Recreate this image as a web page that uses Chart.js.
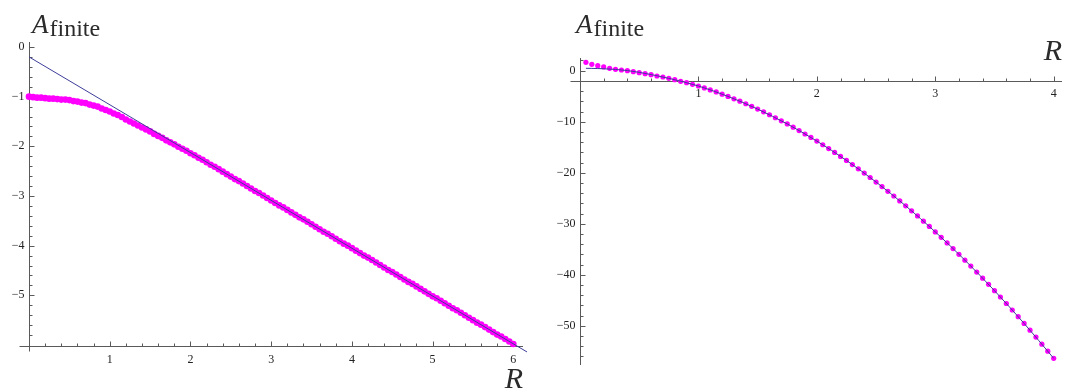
<!DOCTYPE html>
<html>
<head>
<meta charset="utf-8">
<script src="https://cdn.jsdelivr.net/npm/chart.js@4.4.1/dist/chart.umd.min.js"></script>
<style>
  html, body { margin: 0; padding: 0; background: #fff; }
  #wrap { position: relative; width: 1066px; height: 390px; }
  canvas { position: absolute; top: 0; }
  #left { left: 0; }
  #right { left: 533px; }
</style>
</head>
<body>
<div id="wrap">
  <canvas id="left" width="533" height="390"></canvas>
  <canvas id="right" width="533" height="390"></canvas>
</div>
<script>
// ---- left panel: A_finite vs R, dots + asymptotic straight line ----
const leftR = [0, 0.05, 0.1, 0.15, 0.2, 0.25, 0.3, 0.35, 0.4, 0.45, 0.5, 0.55, 0.6, 0.65, 0.7, 0.75, 0.8, 0.85, 0.9, 0.95,
  1.0, 1.05, 1.1, 1.15, 1.2, 1.25, 1.3, 1.35, 1.4, 1.45, 1.5, 1.55, 1.6, 1.65, 1.7, 1.75, 1.8, 1.85, 1.9, 1.95,
  2.0, 2.05, 2.1, 2.15, 2.2, 2.25, 2.3, 2.35, 2.4, 2.45, 2.5, 2.55, 2.6, 2.65, 2.7, 2.75, 2.8, 2.85, 2.9, 2.95,
  3.0, 3.05, 3.1, 3.15, 3.2, 3.25, 3.3, 3.35, 3.4, 3.45, 3.5, 3.55, 3.6, 3.65, 3.7, 3.75, 3.8, 3.85, 3.9, 3.95,
  4.0, 4.05, 4.1, 4.15, 4.2, 4.25, 4.3, 4.35, 4.4, 4.45, 4.5, 4.55, 4.6, 4.65, 4.7, 4.75, 4.8, 4.85, 4.9, 4.95,
  5.0, 5.05, 5.1, 5.15, 5.2, 5.25, 5.3, 5.35, 5.4, 5.45, 5.5, 5.55, 5.6, 5.65, 5.7, 5.75, 5.8, 5.85, 5.9, 5.95, 6.0];
const leftDots = [-1.00, -1.01, -1.02, -1.02, -1.03, -1.04, -1.04, -1.05, -1.06, -1.06, -1.07, -1.09, -1.10, -1.12, -1.13, -1.16, -1.18, -1.20, -1.24, -1.27,
  -1.30, -1.34, -1.37, -1.41, -1.46, -1.50, -1.54, -1.58, -1.62, -1.66, -1.70, -1.75, -1.79, -1.83, -1.88, -1.92, -1.96, -2.01, -2.05, -2.09,
  -2.14, -2.18, -2.23, -2.27, -2.32, -2.37, -2.41, -2.46, -2.51, -2.56, -2.61, -2.66, -2.70, -2.75, -2.80, -2.85, -2.90, -2.94, -2.99, -3.04,
  -3.09, -3.14, -3.19, -3.23, -3.28, -3.33, -3.38, -3.43, -3.47, -3.52, -3.57, -3.62, -3.67, -3.72, -3.76, -3.81, -3.86, -3.91, -3.96, -4.00,
  -4.05, -4.10, -4.15, -4.20, -4.24, -4.29, -4.34, -4.39, -4.44, -4.49, -4.53, -4.58, -4.63, -4.68, -4.73, -4.77, -4.82, -4.87, -4.92, -4.97,
  -5.02, -5.06, -5.11, -5.16, -5.21, -5.26, -5.30, -5.35, -5.40, -5.45, -5.50, -5.55, -5.59, -5.64, -5.69, -5.74, -5.79, -5.83, -5.88, -5.93, -5.98];
const leftLineR = [0, 6.17];
const leftLineA = [-0.2, -6.14];
const leftXMajor = [1, 2, 3, 4, 5, 6];
const leftXMinor = [0.2, 0.4, 0.6, 0.8, 1.2, 1.4, 1.6, 1.8, 2.2, 2.4, 2.6, 2.8, 3.2, 3.4, 3.6, 3.8,
  4.2, 4.4, 4.6, 4.8, 5.2, 5.4, 5.6, 5.8];
const leftYMajor = [0, -1, -2, -3, -4, -5];
const leftYMinor = [-0.2, -0.4, -0.6, -0.8, -1.2, -1.4, -1.6, -1.8, -2.2, -2.4, -2.6, -2.8, -3.2, -3.4, -3.6, -3.8,
  -4.2, -4.4, -4.6, -4.8, -5.2, -5.4, -5.6, -5.8];

// ---- right panel ----
const rightR = [0.05, 0.10, 0.15, 0.20, 0.25, 0.30, 0.35, 0.40, 0.45, 0.50, 0.55, 0.60, 0.65, 0.70, 0.75, 0.80, 0.85, 0.90, 0.95, 1.00,
  1.05, 1.10, 1.15, 1.20, 1.25, 1.30, 1.35, 1.40, 1.45, 1.50, 1.55, 1.60, 1.65, 1.70, 1.75, 1.80, 1.85, 1.90, 1.95, 2.00,
  2.05, 2.10, 2.15, 2.20, 2.25, 2.30, 2.35, 2.40, 2.45, 2.50, 2.55, 2.60, 2.65, 2.70, 2.75, 2.80, 2.85, 2.90, 2.95, 3.00,
  3.05, 3.10, 3.15, 3.20, 3.25, 3.30, 3.35, 3.40, 3.45, 3.50, 3.55, 3.60, 3.65, 3.70, 3.75, 3.80, 3.85, 3.90, 3.95, 4.00];
const rightDots = [1.64, 1.25, 0.98, 0.74, 0.46, 0.27, 0.14, 0.01, -0.19, -0.38, -0.58, -0.78, -1.04, -1.24, -1.50, -1.76, -2.09, -2.35, -2.67, -3.00,
  -3.37, -3.77, -4.17, -4.60, -5.04, -5.51, -5.98, -6.48, -6.99, -7.53, -8.07, -8.64, -9.22, -9.83, -10.44, -11.08, -11.73, -12.41, -13.09, -13.80,
  -14.52, -15.27, -16.02, -16.80, -17.59, -18.41, -19.23, -20.08, -20.94, -21.83, -22.72, -23.64, -24.57, -25.53, -26.49, -27.48, -28.48, -29.51, -30.54, -31.60,
  -32.67, -33.77, -34.87, -36.00, -37.14, -38.31, -39.48, -40.68, -41.89, -43.13, -44.37, -45.64, -46.92, -48.23, -49.54, -50.88, -52.23, -53.61, -54.99, -56.40];
const rightLineR = [0.05, 0.1, 0.15, 0.2, 0.3, 0.4, 0.5, 0.75, 1, 1.25, 1.5, 1.75, 2, 2.25, 2.5, 2.75, 3, 3.25, 3.5, 3.75, 4];
const rightLineA = [0.47, 0.45, 0.42, 0.38, 0.25, 0.03, -0.32, -1.5, -3.0, -5.04, -7.53, -10.44, -13.80, -17.59, -21.83, -26.49, -31.60, -37.14, -43.13, -49.54, -56.40];
const rightXMajor = [1, 2, 3, 4];
const rightXMinor = [0.2, 0.4, 0.6, 0.8, 1.2, 1.4, 1.6, 1.8, 2.2, 2.4, 2.6, 2.8, 3.2, 3.4, 3.6, 3.8];
const rightYMajor = [0, -10, -20, -30, -40, -50];
const rightYMinor = [2, -4, -6, -8, -12, -14, -16, -18, -22, -24, -26, -28, -32, -34, -36, -38,
  -42, -44, -46, -48, -52, -54, -56];

const pairs = (xs, ys) => xs.map((v, i) => ({ x: v, y: ys[i] }));
const minus = v => (v < 0 ? '\u2212' + Math.abs(v) : String(v));

// Mathematica-like axes: lines through a chosen origin, ticks pointing inward
const mmaAxes = {
  id: 'mmaAxes',
  beforeDatasetsDraw(chart, args, o) {
    const { ctx } = chart;
    const x = chart.scales.x, y = chart.scales.y;
    const ax = Math.round(x.getPixelForValue(0)) + 0.5;
    const ay = Math.round(y.getPixelForValue(o.xAxisAt)) + 0.5;
    ctx.save();
    ctx.strokeStyle = '#5a5a5a';
    ctx.lineWidth = 1;
    ctx.beginPath();
    ctx.moveTo(ax - o.xLead, ay); ctx.lineTo(x.right, ay);
    ctx.moveTo(ax, y.top); ctx.lineTo(ax, Math.max(y.bottom, ay + o.yTail));
    ctx.stroke();
    ctx.beginPath();
    o.xMinor.forEach(v => { const p = Math.round(x.getPixelForValue(v)) + 0.5; ctx.moveTo(p, ay); ctx.lineTo(p, ay - 3); });
    o.xMajor.forEach(v => { const p = Math.round(x.getPixelForValue(v)) + 0.5; ctx.moveTo(p, ay); ctx.lineTo(p, ay - 5); });
    o.yMinor.forEach(v => { const p = Math.round(y.getPixelForValue(v)) + 0.5; ctx.moveTo(ax, p); ctx.lineTo(ax + 3, p); });
    o.yMajor.forEach(v => { const p = Math.round(y.getPixelForValue(v)) + 0.5; ctx.moveTo(ax, p); ctx.lineTo(ax + 5, p); });
    ctx.stroke();
    ctx.fillStyle = '#222';
    ctx.font = '12px "Liberation Serif", "DejaVu Serif", serif';
    ctx.textAlign = 'center';
    ctx.textBaseline = 'middle';
    o.xMajor.forEach(v => ctx.fillText(minus(v), x.getPixelForValue(v), ay + o.xLabelGap));
    ctx.textAlign = 'right';
    o.yMajor.forEach(v => ctx.fillText(minus(v), ax - 5, y.getPixelForValue(v)));
    ctx.restore();
  },
  afterDraw(chart, args, o) {
    const { ctx } = chart;
    const x = chart.scales.x;
    const ax = x.getPixelForValue(0);
    ctx.save();
    ctx.fillStyle = '#2b2b2b';
    ctx.textBaseline = 'alphabetic';
    ctx.textAlign = 'left';
    ctx.font = 'italic 27px "Liberation Serif", serif';
    const ax0 = ax + o.aDx;
    ctx.fillText('A', ax0, o.aBase);
    const aw = ctx.measureText('A').width;
    ctx.font = '24px "Liberation Serif", serif';
    ctx.fillText('finite', ax0 + aw + 1, o.aBase + 3);
    ctx.font = 'italic 30px "Liberation Serif", serif';
    ctx.textAlign = 'right';
    ctx.fillText('R', x.right + o.rDx, o.rBase);
    ctx.restore();
  }
};

function makeChart(id, cfg) {
  return new Chart(document.getElementById(id), {
    type: 'scatter',
    data: {
      datasets: [
        {
          data: pairs(cfg.lineR, cfg.lineA),
          showLine: true,
          borderColor: '#3d3d99',
          borderWidth: 1,
          pointRadius: 0,
          cubicInterpolationMode: 'monotone',
          clip: false
        },
        {
          data: pairs(cfg.R, cfg.dots),
          showLine: false,
          pointRadius: cfg.dotR,
          pointBackgroundColor: '#ff00ff',
          pointBorderWidth: 0,
          clip: false
        }
      ]
    },
    options: {
      responsive: false,
      animation: false,
      events: [],
      layout: { padding: cfg.pad },
      plugins: { legend: { display: false }, tooltip: { enabled: false }, mmaAxes: cfg.axes },
      scales: {
        x: { type: 'linear', display: false, min: cfg.xMin, max: cfg.xMax },
        y: { type: 'linear', display: false, min: cfg.yMin, max: cfg.yMax }
      }
    },
    plugins: [mmaAxes]
  });
}

makeChart('left', {
  R: leftR, dots: leftDots, lineR: leftLineR, lineA: leftLineA, dotR: 3.3,
  xMin: 0, xMax: 6.12, yMin: -6.02, yMax: 0.1,
  pad: { left: 29, right: 10, top: 42, bottom: 44 },
  axes: {
    xAxisAt: -6.02, xLead: 10, yTail: 5, xLabelGap: 13,
    xMajor: leftXMajor, xMinor: leftXMinor, yMajor: leftYMajor, yMinor: leftYMinor,
    aDx: 3, aBase: 33, rDx: 0, rBase: 388
  }
});

makeChart('right', {
  R: rightR, dots: rightDots, lineR: rightLineR, lineA: rightLineA, dotR: 2.6,
  xMin: 0, xMax: 4.07, yMin: -57.7, yMax: 2.49,
  pad: { left: 47, right: 0, top: 58, bottom: 25 },
  axes: {
    xAxisAt: -2, xLead: 10, yTail: 0, xLabelGap: 12,
    xMajor: rightXMajor, xMinor: rightXMinor, yMajor: rightYMajor, yMinor: rightYMinor,
    aDx: -4, aBase: 33, rDx: 0, rBase: 60
  }
});
</script>
</body>
</html>
